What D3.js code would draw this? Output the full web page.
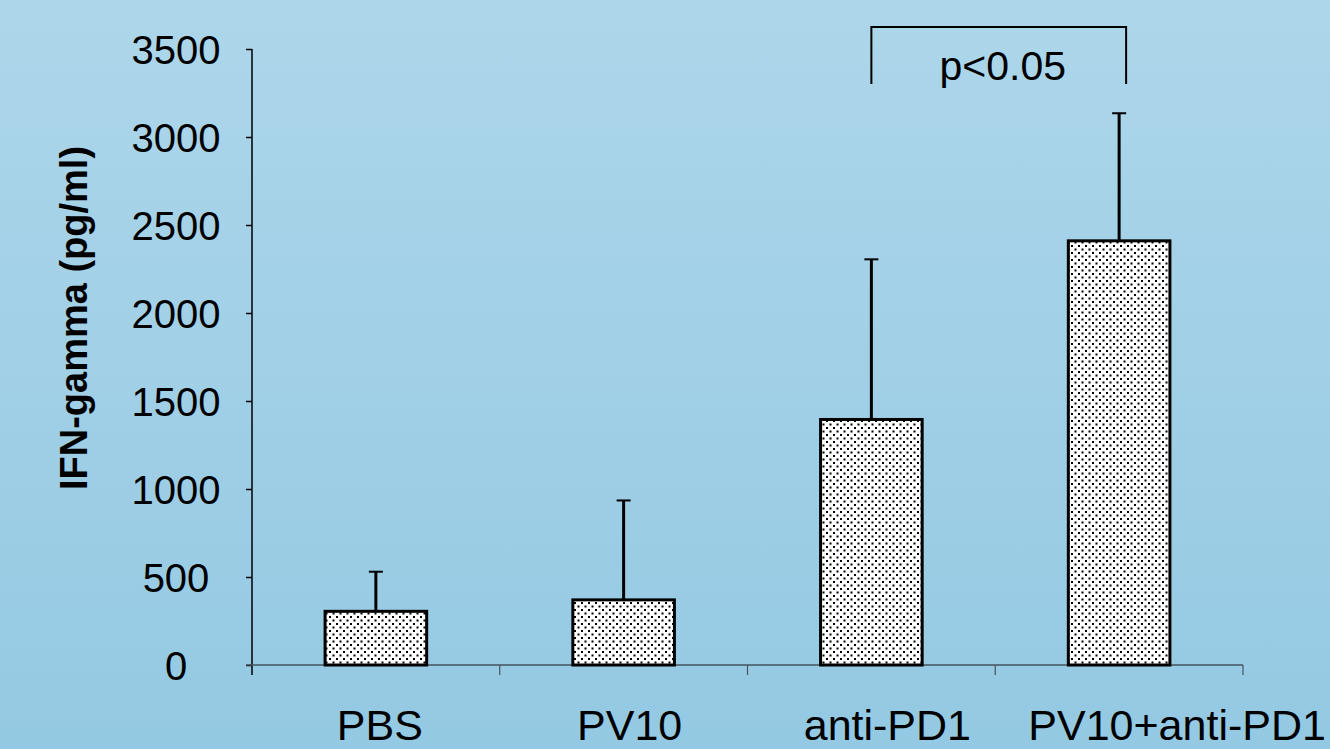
<!DOCTYPE html>
<html>
<head>
<meta charset="utf-8">
<script src="https://cdn.jsdelivr.net/npm/d3@7"></script>
<style>
  html, body { margin: 0; padding: 0; }
  body { width: 1330px; height: 749px; overflow: hidden; }
  svg text { font-family: "Liberation Sans", Arial, sans-serif; fill: #000; }
</style>
</head>
<body>
<div id="chart"></div>
<script>
// data
const categories = ['PBS', 'PV10', 'anti-PD1', 'PV10+anti-PD1'];
const means = [305, 370, 1395, 2410];
const upperErr = [530, 935, 2305, 3135];
const yTicks = [0, 500, 1000, 1500, 2000, 2500, 3000, 3500];
const yTitle = 'IFN-gamma (pg/ml)';
const sigLabel = 'p<0.05';
const sigPair = ['anti-PD1', 'PV10+anti-PD1'];

const W = 1330, H = 749;
const margin = { top: 49, left: 252, right: 87, bottom: 84 };
const plotW = W - margin.left - margin.right;
const plotH = H - margin.top - margin.bottom;

const svg = d3.select('#chart').append('svg')
  .attr('width', W)
  .attr('height', H);

const defs = svg.append('defs');
const grad = defs.append('linearGradient')
  .attr('id', 'bg')
  .attr('x1', 0).attr('y1', 0).attr('x2', 0).attr('y2', 1);
grad.append('stop').attr('offset', '0%').attr('stop-color', '#add6ea');
grad.append('stop').attr('offset', '100%').attr('stop-color', '#94c9e3');

// dotted fill like the original bars
const pat = defs.append('pattern')
  .attr('id', 'dots')
  .attr('patternUnits', 'userSpaceOnUse')
  .attr('width', 7).attr('height', 7);
pat.append('rect').attr('width', 7).attr('height', 7).attr('fill', '#fff');
pat.append('rect').attr('x', 0).attr('y', 0).attr('width', 2).attr('height', 2).attr('fill', '#000');
pat.append('rect').attr('x', 3.5).attr('y', 3.5).attr('width', 2).attr('height', 2).attr('fill', '#000');

svg.append('rect').attr('width', W).attr('height', H).attr('fill', 'url(#bg)');

const g = svg.append('g')
  .attr('transform', `translate(${margin.left}, ${margin.top})`);

const x = d3.scaleBand().domain(categories).range([0, plotW]).paddingInner(0.59).paddingOuter(0.295);
const xBand = d3.scaleBand().domain(categories).range([0, plotW]);
const y = d3.scaleLinear().domain([0, 3500]).range([plotH, 0]);

// y axis (labels are centred in the original)
const yAxis = g.append('g')
  .call(d3.axisLeft(y).tickValues(yTicks).tickSize(6).tickPadding(0).tickFormat(d3.format('d')));
yAxis.select('.domain').remove();
yAxis.selectAll('.tick line').attr('stroke', '#000').attr('stroke-width', 1.5);
yAxis.selectAll('.tick text')
  .attr('font-size', 40)
  .attr('x', -76)
  .attr('text-anchor', 'middle')
  .attr('dy', '0.36em');
g.append('line')
  .attr('x1', 0).attr('x2', 0)
  .attr('y1', y(3500)).attr('y2', plotH + 10)
  .attr('stroke', '#000').attr('stroke-width', 1.5);

// x axis baseline and category dividers
g.append('line')
  .attr('x1', -6).attr('x2', plotW)
  .attr('y1', plotH).attr('y2', plotH)
  .attr('stroke', '#46545e').attr('stroke-width', 1.5);
g.selectAll('.divider')
  .data(categories)
  .join('line')
  .attr('class', 'divider')
  .attr('x1', d => xBand(d) + xBand.bandwidth())
  .attr('x2', d => xBand(d) + xBand.bandwidth())
  .attr('y1', plotH).attr('y2', plotH + 10)
  .attr('stroke', '#46545e').attr('stroke-width', 1.2);

// category labels (the original text boxes drift right a little)
const labelShift = [4, 6, 16, 58];
g.selectAll('.xlabel')
  .data(categories)
  .join('text')
  .attr('class', 'xlabel')
  .attr('x', (d, i) => xBand(d) + xBand.bandwidth() / 2 + labelShift[i])
  .attr('y', plotH + 75)
  .attr('text-anchor', 'middle')
  .attr('font-size', 43)
  .text(d => d);

// error bars (upper only)
const cap = 7;
categories.forEach((c, i) => {
  const cx = x(c) + x.bandwidth() / 2;
  g.append('line')
    .attr('x1', cx).attr('x2', cx)
    .attr('y1', y(means[i])).attr('y2', y(upperErr[i]))
    .attr('stroke', '#000').attr('stroke-width', 3);
  g.append('line')
    .attr('x1', cx - cap).attr('x2', cx + cap)
    .attr('y1', y(upperErr[i])).attr('y2', y(upperErr[i]))
    .attr('stroke', '#000').attr('stroke-width', 2);
});

// bars
g.selectAll('.bar')
  .data(categories)
  .join('rect')
  .attr('class', 'bar')
  .attr('x', d => x(d))
  .attr('y', (d, i) => y(means[i]))
  .attr('width', x.bandwidth())
  .attr('height', (d, i) => plotH - y(means[i]))
  .attr('fill', 'url(#dots)')
  .attr('stroke', '#000')
  .attr('stroke-width', 3);

// significance bracket
const bx1 = x(sigPair[0]) + x.bandwidth() / 2;
const bx2 = x(sigPair[1]) + x.bandwidth() / 2 + 7;
const bTop = -22, bBottom = 35;
g.append('path')
  .attr('d', `M${bx1},${bBottom}V${bTop}H${bx2}V${bBottom}`)
  .attr('fill', 'none')
  .attr('stroke', '#000')
  .attr('stroke-width', 2);
g.append('text')
  .attr('x', (bx1 + bx2) / 2 + 4)
  .attr('y', 31)
  .attr('text-anchor', 'middle')
  .attr('font-size', 41)
  .text(sigLabel);

// y title
svg.append('text')
  .attr('transform', `translate(87, 318) rotate(-90)`)
  .attr('text-anchor', 'middle')
  .attr('font-size', 38)
  .attr('font-weight', 'bold')
  .text(yTitle);
</script>
</body>
</html>
